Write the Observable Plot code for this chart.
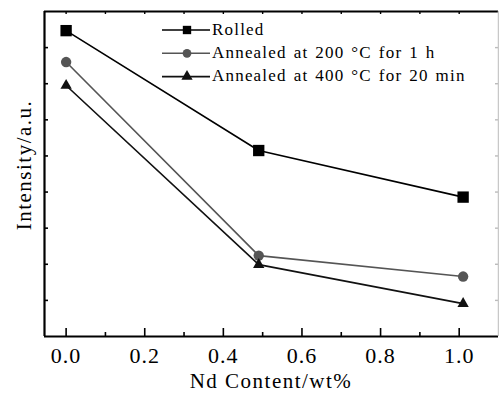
<!DOCTYPE html>
<html><head><meta charset="utf-8">
<script src="https://cdn.jsdelivr.net/npm/d3@7"></script>
<script src="https://cdn.jsdelivr.net/npm/@observablehq/plot@0.6"></script>
<style>
body{margin:0;background:#fff}
#chart svg{font-family:"Liberation Serif","Times New Roman",serif;}
</style></head><body><div id="chart"></div>
<script>
// ---- data ----
const ndContent = [0, 0.49, 1.01];
const seriesNames = ["Rolled", "Annealed at 200 \u00B0C for 1 h", "Annealed at 400 \u00B0C for 20 min"];
const rolled = [8.47, 5.15, 3.86];
const annealed200 = [7.60, 2.24, 1.66];
const annealed400 = [6.95, 1.99, 0.91];
const xMajorTicks = [0, 0.2, 0.4, 0.6, 0.8, 1.0];
const xMinorTicks = [0.1, 0.3, 0.5, 0.7, 0.9];
const yTicks = [1, 2, 3, 4, 5, 6, 7, 8];
const xDomain = [-0.055, 1.1];
const yDomain = [0, 9];
const xTitle = "Nd Content/wt%";
const yTitle = "Intensity/a.u.";

const seriesValues = [rolled, annealed200, annealed400];
const colors = ["#000000", "#555555", "#111111"];
const symbols = ["square", "circle", "triangle"];
const radii = [6.4, 5.2, 4.2];

const data = [];
seriesNames.forEach((s, i) => seriesValues[i].forEach((v, j) => data.push({series: s, x: ndContent[j], y: v})));

// ---- layout ----
const W = 499, H = 394, mT = 11, mB = 58, mL = 44, mR = 1;
const innerH = H - mT - mB, innerW = W - mL - mR;

const marks = [
  Plot.tickX(xMajorTicks, {insetTop: innerH - 8, stroke: "#000", strokeWidth: 1.6}),
  Plot.tickX(xMinorTicks, {insetTop: innerH - 4, stroke: "#000", strokeWidth: 1.6}),
  Plot.tickX([...xMajorTicks, ...xMinorTicks], {insetBottom: innerH - 3, stroke: "#000", strokeWidth: 1.4}),
  Plot.tickY(yTicks, {insetRight: innerW - 4, stroke: "#000", strokeWidth: 1.6}),
  Plot.tickY(yTicks, {insetLeft: innerW - 3, stroke: "#bbb", strokeWidth: 1.4}),
  Plot.ruleY([yDomain[0]], {stroke: "#000", strokeWidth: 2.2}),
  Plot.ruleY([yDomain[1]], {stroke: "#000", strokeWidth: 2.2}),
  Plot.ruleX([xDomain[0]], {stroke: "#000", strokeWidth: 2.2}),
  Plot.ruleX([xDomain[1]], {stroke: "#c8c8c8", strokeWidth: 1.5}),
];
seriesNames.forEach((s, i) => {
  const d = data.filter(r => r.series === s);
  marks.push(Plot.line(d, {x: "x", y: "y", stroke: colors[i], strokeWidth: 1.6}));
  marks.push(Plot.dot(d, {x: "x", y: "y", symbol: () => symbols[i], r: radii[i], fill: colors[i], stroke: "none"}));
});
marks.push(Plot.axisX(xMajorTicks, {tickSize: 0, tickPadding: 10.5, tickFormat: d3.format(".1f"), fontSize: 22, label: null}));

const plot = Plot.plot({
  width: W, height: H,
  marginTop: mT, marginBottom: mB, marginLeft: mL, marginRight: mR,
  style: {fontFamily: "'Liberation Serif', 'Times New Roman', serif", background: "white", color: "#000", overflow: "visible"},
  x: {domain: xDomain},
  y: {domain: yDomain, axis: null},
  symbol: {domain: symbols, range: symbols},
  marks
});
document.getElementById("chart").appendChild(plot);

const svg = d3.select(plot);
svg.selectAll("g[aria-label='x-axis tick label'] text").style("letter-spacing", "1px");

// axis titles
svg.append("text")
  .attr("x", mL + innerW / 2).attr("y", H - 6)
  .attr("text-anchor", "middle")
  .style("font-size", "21px").style("letter-spacing", "1.5px")
  .attr("fill", "#000").text(xTitle);
svg.append("text")
  .attr("transform", `translate(31,${165}) rotate(-90)`)
  .attr("text-anchor", "middle")
  .style("font-size", "21px").style("letter-spacing", "1.5px")
  .attr("fill", "#000").text(yTitle);

// legend
const lg = svg.append("g").attr("text-anchor", "start");
const lgSizes = [70, 60, 55];
seriesNames.forEach((s, i) => {
  const cy = 30 + i * 23.3;
  lg.append("line").attr("x1", 162).attr("x2", 210).attr("y1", cy).attr("y2", cy)
    .attr("stroke", colors[i]).attr("stroke-width", 1.6);
  lg.append("path").attr("d", d3.symbol(d3["symbol" + symbols[i][0].toUpperCase() + symbols[i].slice(1)], lgSizes[i])())
    .attr("transform", `translate(187,${cy})`).attr("fill", colors[i]);
  lg.append("text").attr("x", 212).attr("y", cy + 4.5)
    .attr("text-anchor", "start")
    .style("font-size", "17px").style("letter-spacing", "1.2px").style("word-spacing", "1.5px")
    .attr("fill", "#000").text(s);
});
</script></body></html>
